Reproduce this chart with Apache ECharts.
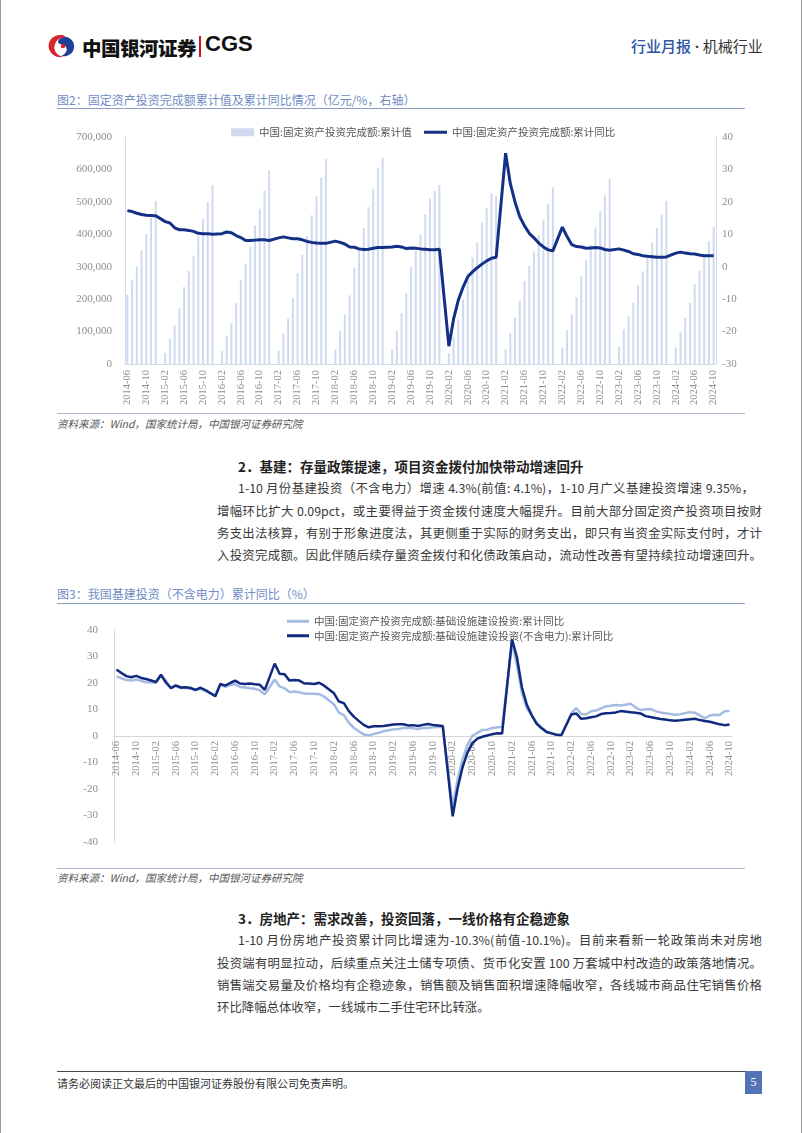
<!DOCTYPE html>
<html><head><meta charset="utf-8">
<script src="https://cdn.jsdelivr.net/npm/echarts/dist/echarts.min.js"></script>
<style>
html,body{margin:0;padding:0;background:#fff;}
#page{position:relative;width:802px;height:1133px;overflow:hidden;font-family:"Noto Sans CJK SC","Noto Sans",sans-serif;color:#333;}
.abs{position:absolute;white-space:nowrap;}
.ttl{font-size:12px;color:#6f8cc4;}
.rule{position:absolute;left:57px;width:688px;height:0;}
.src{font-size:10.5px;color:#555;font-style:italic;}
.h{font-size:13.5px;font-weight:700;color:#222;}
.p{font-size:12.4px;color:#3a3a3a;text-align:justify;text-align-last:justify;white-space:normal;}
.pl{font-size:12.4px;color:#3a3a3a;}
</style></head>
<body><div id="page">
<div class="abs" style="left:0;top:0;width:1px;height:1133px;background:#9a9a9a"></div>
<div class="abs" style="left:801px;top:0;width:1px;height:1133px;background:#9a9a9a"></div>

<svg class="abs" style="left:46px;top:33px" width="32" height="26" viewBox="0 0 32 26">
  <path d="M16 2 C7 1 1 8 3 16 C5 22 11 25 17 24 C10 22 7 17 9 11 C11 6 15 4 20 5 C19 3 18 2 16 2Z" fill="#d7262e"/>
  <path d="M21 4 C27 6 30 12 27 18 C25 22 20 24 15 23 C20 21 22 17 20 14 C18 11 13 12 12 9 C12 6 16 4 21 4Z" fill="#1e3f96"/>
  <circle cx="17" cy="13" r="2.3" fill="#d7262e"/>
</svg>
<div class="abs" style="left:82px;top:33px;font-size:19.5px;font-weight:900;color:#111;letter-spacing:-0.5px">中国银河证券</div>
<div class="abs" style="left:199px;top:36px;width:2px;height:21px;background:#c8161d"></div>
<div class="abs" style="left:205px;top:31px;font-size:22px;font-weight:700;color:#111;font-family:'Liberation Sans',Arial,sans-serif">CGS</div>
<div class="abs" style="left:631px;top:35px;font-size:15px;color:#333"><span style="color:#2d55a6;font-weight:500">行业月报</span>&nbsp;<span style="font-family:'Liberation Serif',serif;font-weight:700">·</span>&nbsp;机械行业</div>

<div class="abs ttl" style="left:57px;top:91px">图2：固定资产投资完成额累计值及累计同比情况（亿元/%，右轴）</div>
<div class="rule" style="top:108px;border-top:1.5px solid #8c9fc2"></div>
<div id="c1" style="position:absolute;left:0;top:112px;width:802px;height:300px"></div>
<div class="rule" style="top:413px;border-top:1px solid #a9b6cf"></div>
<div class="abs src" style="left:57px;top:416px">资料来源：Wind，国家统计局，中国银河证券研究院</div>

<div class="abs h" style="left:238px;top:456px">2．基建：存量政策提速，项目资金拨付加快带动增速回升</div>
<div class="abs p" style="left:238px;width:516px;top:479px">1-10 月份基建投资（不含电力）增速 4.3%(前值: 4.1%)，1-10 月广义基建投资增速 9.35%，</div>
<div class="abs p" style="left:217px;width:545px;top:502px">增幅环比扩大 0.09pct，或主要得益于资金拨付速度大幅提升。目前大部分固定资产投资项目按财</div>
<div class="abs p" style="left:217px;width:545px;top:524px">务支出法核算，有别于形象进度法，其更侧重于实际的财务支出，即只有当资金实际支付时，才计</div>
<div class="abs p" style="left:217px;width:545px;top:546px">入投资完成额。因此伴随后续存量资金拨付和化债政策启动，流动性改善有望持续拉动增速回升。</div>

<div class="abs ttl" style="left:57px;top:585px">图3：我国基建投资（不含电力）累计同比（%）</div>
<div class="rule" style="top:603px;border-top:1.5px solid #8c9fc2"></div>
<div id="c2" style="position:absolute;left:0;top:606px;width:802px;height:262px"></div>
<div class="rule" style="top:868px;border-top:1px solid #a9b6cf"></div>
<div class="abs src" style="left:57px;top:870px">资料来源：Wind，国家统计局，中国银河证券研究院</div>

<div class="abs h" style="left:238px;top:908px">3．房地产：需求改善，投资回落，一线价格有企稳迹象</div>
<div class="abs p" style="left:238px;width:524px;top:931px">1-10 月份房地产投资累计同比增速为-10.3%(前值-10.1%)。目前来看新一轮政策尚未对房地</div>
<div class="abs p" style="left:217px;width:545px;top:954px">投资端有明显拉动，后续重点关注土储专项债、货币化安置 100 万套城中村改造的政策落地情况。</div>
<div class="abs p" style="left:217px;width:545px;top:976px">销售端交易量及价格均有企稳迹象，销售额及销售面积增速降幅收窄，各线城市商品住宅销售价格</div>
<div class="abs pl" style="left:217px;top:998px">环比降幅总体收窄，一线城市二手住宅环比转涨。</div>

<div class="rule" style="top:1071px;border-top:1px solid #444"></div>
<div class="abs" style="left:57px;top:1075px;font-size:11px;color:#333">请务必阅读正文最后的中国银河证券股份有限公司免责声明。</div>
<div class="abs" style="left:745px;top:1071px;width:17px;height:23px;background:#5373b4;color:#fff;font-size:12px;text-align:center;line-height:23px;font-family:'Liberation Serif',serif">5</div>
</div>

<script>
// ---- categories: every month from 2014-06 to 2024-10 (January has no data) ----
const months = [];
for (let y = 2014; y <= 2024; y++) {
  for (let m = 1; m <= 12; m++) {
    if (y === 2014 && m < 6) continue;
    if (y === 2024 && m > 10) continue;
    months.push(y + '-' + (m < 10 ? '0' + m : '' + m));
  }
}

// ---- Figure 2: FAI cumulative value (亿元), Jan = null ----
const faiValue = [
  212758, 257684, 301390, 350837, 401212, 451100, 502005,
  null, 34477, 77511, 119590, 171624, 237132, 286121, 333652, 394531, 447425, 499856, 551590,
  null, 39364, 85843, 125713, 187671, 258360, 309048, 361205, 426906, 478962, 533671, 596501,
  null, 41378, 93777, 139670, 203516, 280605, 337208, 394150, 458478, 517818, 575057, 631684,
  null, 44636, 100763, 152654, 212000, 297316, 353386, 419000, 483442, 540000, 605000, 635636,
  null, 44849, 101871, 155747, 218845, 299100, 350000, 400000, 461204, 510040, 533718, 551478,
  null, 33323, 84145, 136824, 199194, 281603, 329214, 374013, 436530, 479922, 526846, 518907,
  null, 45236, 95994, 143804, 193917, 255900, 302823, 346913, 397827, 445823, 494082, 544547,
  null, 50763, 104872, 153544, 205964, 271430, 319812, 367106, 421412, 471459, 520043, 572138,
  null, 53577, 107282, 147482, 188815, 243113, 285898, 327042, 375035, 419409, 460814, 503036,
  null, 50847, 100042, 143401, 188006, 245391, 287611, 329385, 378978, 423222
];
// ---- Figure 2: FAI cumulative YoY (%) ----
const faiYoY = [
  17.3, 17.0, 16.5, 16.1, 15.9, 15.8, 15.7,
  null, 13.9, 13.5, 12.0, 11.4, 11.4, 11.2, 10.9, 10.3, 10.2, 10.2, 10.0,
  null, 10.2, 10.7, 10.5, 9.6, 9.0, 8.1, 8.1, 8.2, 8.3, 8.3, 8.1,
  null, 8.9, 9.2, 8.9, 8.6, 8.6, 8.3, 7.8, 7.5, 7.3, 7.2, 7.2,
  null, 7.9, 7.5, 7.0, 6.1, 6.0, 5.5, 5.3, 5.4, 5.7, 5.9, 5.9,
  null, 6.1, 6.3, 6.1, 5.6, 5.8, 5.7, 5.5, 5.4, 5.2, 5.2, 5.4,
  null, -24.5, -16.1, -10.3, -6.3, -3.1, -1.6, -0.3, 0.8, 1.8, 2.6, 2.9,
  null, 35.0, 25.6, 19.9, 15.4, 12.6, 10.3, 8.9, 7.3, 6.1, 5.2, 4.9,
  null, 12.2, 9.3, 6.8, 6.2, 6.1, 5.7, 5.8, 5.9, 5.8, 5.3, 5.1,
  null, 5.5, 5.1, 4.7, 4.0, 3.8, 3.4, 3.2, 3.1, 2.9, 2.9, 3.0,
  null, 4.2, 4.5, 4.2, 4.0, 3.9, 3.6, 3.4, 3.4, 3.4
];

// ---- Figure 3: infrastructure investment cumulative YoY (%) ----
const infraBroad = [
  22.5, 21.8, 21.1, 20.9, 21.3, 20.8, 20.3,
  null, 20.1, 22.8, 20.9, 18.0, 18.9, 18.1, 18.2, 17.8, 17.2, 17.9, 17.0,
  null, 15.4, 19.3, 18.6, 19.2, 19.6, 18.5, 18.3, 18.0, 17.8, 17.2, 15.7,
  null, 21.3, 18.7, 18.0, 16.6, 16.8, 16.5, 16.0, 15.9, 15.9, 15.8, 14.9,
  null, 11.9, 8.8, 7.9, 5.0, 3.1, 1.8, 0.6, 0.3, 0.7, 1.2, 1.8,
  null, 2.5, 2.6, 3.0, 3.1, 2.9, 2.6, 3.0, 3.0, 3.3, 3.5, 3.3,
  null, -26.9, -16.4, -8.8, -3.3, 0.1, 1.2, 2.3, 2.4, 3.0, 3.3, 3.4,
  null, 35.0, 26.8, 16.4, 10.4, 7.8, 4.9, 3.2, 1.5, 1.0, 0.5, 0.2,
  null, 8.6, 10.5, 8.3, 8.2, 9.3, 9.6, 10.4, 11.2, 11.4, 11.7, 11.5,
  null, 12.2, 10.8, 9.8, 10.1, 10.2, 9.4, 8.9, 8.6, 8.3, 8.0, 8.2,
  null, 9.0, 8.8, 7.8, 6.7, 7.7, 8.0, 7.9, 9.3, 9.4
];
const infraExPower = [
  25.1, 23.8, 22.6, 22.2, 22.7, 21.9, 21.5,
  null, 20.4, 23.1, 20.2, 18.1, 19.1, 18.3, 18.4, 18.1, 17.4, 18.2, 17.3,
  null, 15.0, 19.6, 19.0, 20.0, 20.9, 19.8, 19.6, 19.8, 19.5, 19.3, 17.4,
  null, 27.3, 23.5, 23.3, 20.9, 21.1, 20.9, 19.8, 19.8, 19.6, 20.1, 19.0,
  null, 16.1, 13.0, 12.4, 9.4, 7.3, 5.7, 4.2, 3.3, 3.7, 3.7, 3.8,
  null, 4.3, 4.4, 4.4, 4.0, 4.1, 3.8, 4.2, 4.5, 4.2, 4.0, 3.8,
  null, -30.3, -19.7, -11.8, -6.3, -2.7, -1.0, -0.3, 0.2, 0.7, 1.0, 0.9,
  null, 36.6, 29.7, 18.4, 11.8, 7.8, 4.6, 2.9, 1.5, 1.0, 0.5, 0.4,
  null, 8.1, 8.5, 6.5, 6.7, 7.1, 7.4, 8.3, 8.6, 8.7, 8.9, 9.4,
  null, 9.0, 8.8, 8.5, 7.5, 7.2, 6.8, 6.4, 6.2, 5.9, 5.8, 5.9,
  null, 6.3, 6.5, 6.0, 5.7, 5.4, 4.9, 4.4, 4.1, 4.3
];

const names1 = ['中国:固定资产投资完成额:累计值', '中国:固定资产投资完成额:累计同比'];
const names2 = ['中国:固定资产投资完成额:基础设施建设投资:累计同比', '中国:固定资产投资完成额:基础设施建设投资(不含电力):累计同比'];

const numFont = "'Liberation Serif', 'DejaVu Serif', serif";
const cjkFont = "'Noto Sans CJK SC', sans-serif";
const axisGray = '#8f8f8f';

const c1 = echarts.init(document.getElementById('c1'), null, {renderer: 'canvas'});
c1.setOption({
  animation: false,
  legend: [
    {left: 226, top: 10, itemWidth: 23, itemHeight: 8, icon: 'rect', data: [names1[0]],
     textStyle: {fontSize: 10.5, color: '#555', fontFamily: cjkFont}},
    {left: 419, top: 10, itemWidth: 23, itemHeight: 3, icon: 'rect', data: [names1[1]],
     textStyle: {fontSize: 10.5, color: '#555', fontFamily: cjkFont}}
  ],
  grid: {left: 125, right: 86, top: 25, bottom: 48, containLabel: false, outerBoundsMode: 'none'},
  xAxis: {
    type: 'category', data: months, boundaryGap: true,
    axisLine: {show: true, lineStyle: {color: '#d3dbea'}},
    axisTick: {show: false},
    axisLabel: {interval: 3, rotate: 90, fontSize: 10.5, color: axisGray, margin: 6, fontFamily: numFont}
  },
  yAxis: [
    {type: 'value', min: 0, max: 700000, interval: 100000,
     axisLine: {show: true, lineStyle: {color: '#d3dcee'}}, axisTick: {show: false},
     splitLine: {show: false},
     axisLabel: {color: axisGray, fontSize: 11, margin: 13, fontFamily: numFont,
       formatter: v => v.toLocaleString('en-US')}},
    {type: 'value', min: -30, max: 40, interval: 10, position: 'right',
     axisLine: {show: true, lineStyle: {color: '#d3dcee'}}, axisTick: {show: false},
     splitLine: {show: false},
     axisLabel: {color: axisGray, fontSize: 11, margin: 6, fontFamily: numFont}}
  ],
  series: [
    {name: names1[0], type: 'bar', data: faiValue, yAxisIndex: 0, barWidth: 2,
     itemStyle: {color: '#cfdaee'}},
    {name: names1[1], type: 'line', data: faiYoY, yAxisIndex: 1, connectNulls: true,
     showSymbol: false, symbol: 'none', lineStyle: {color: '#142f86', width: 3}, itemStyle: {color: '#142f86'}}
  ]
});

const c2 = echarts.init(document.getElementById('c2'), null, {renderer: 'canvas'});
c2.setOption({
  animation: false,
  legend: {orient: 'vertical', left: 282, top: 5, itemGap: 4, itemWidth: 22, itemHeight: 3, icon: 'rect',
    data: names2, textStyle: {fontSize: 10.5, color: '#555', fontFamily: cjkFont}},
  grid: {left: 114, right: 70, top: 24, bottom: 26, containLabel: false, outerBoundsMode: 'none'},
  xAxis: {
    type: 'category', data: months, boundaryGap: true, offset: -106,
    axisLine: {show: true, onZero: false, lineStyle: {color: '#d6d6d6'}},
    axisTick: {show: false},
    axisLabel: {interval: 3, rotate: 90, fontSize: 10.5, color: axisGray, margin: 5, fontFamily: numFont}
  },
  yAxis: {type: 'value', min: -40, max: 40, interval: 10,
    axisLine: {show: true, lineStyle: {color: '#d6d6d6'}}, axisTick: {show: false},
    splitLine: {show: false},
    axisLabel: {color: axisGray, fontSize: 11, margin: 16, fontFamily: numFont}},
  series: [
    {name: names2[0], type: 'line', data: infraBroad, connectNulls: true, showSymbol: false, symbol: 'none',
     lineStyle: {color: '#a5bbe2', width: 2.5}, itemStyle: {color: '#a5bbe2'}},
    {name: names2[1], type: 'line', data: infraExPower, connectNulls: true, showSymbol: false, symbol: 'none',
     lineStyle: {color: '#0f2a7e', width: 2.5}, itemStyle: {color: '#0f2a7e'}}
  ]
});
</script>
</body></html>
